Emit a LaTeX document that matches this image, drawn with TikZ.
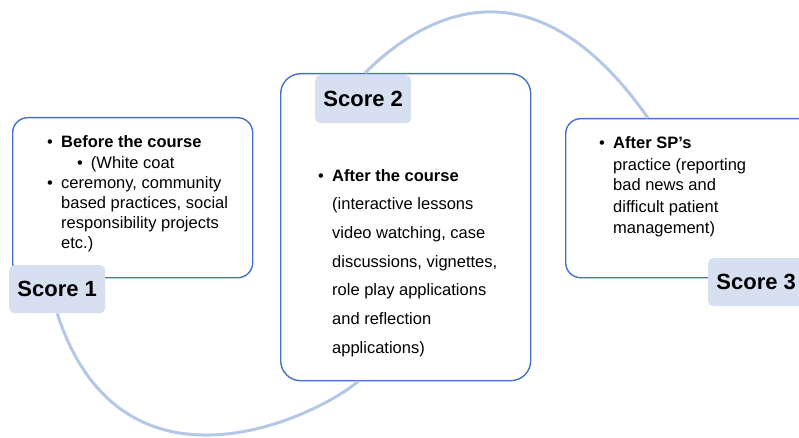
\documentclass[tikz,border=0pt]{standalone}
\usepackage{fontspec}
\setmainfont{Liberation Sans}
\usetikzlibrary{positioning}

\definecolor{boxblue}{RGB}{68,114,196}
\definecolor{linkblue}{RGB}{180,199,231}
\definecolor{tabblue}{RGB}{214,224,241}

\tikzset{
  box/.style={draw=boxblue,line width=1.4pt,fill=white,anchor=north west,inner sep=0pt},
  tab/.style={fill=tabblue,rounded corners=5pt,anchor=north west,minimum height=48pt,
    minimum width=96pt,inner sep=0pt,font=\fontsize{22}{26}\selectfont\bfseries},
  link/.style={draw=linkblue,line width=3pt},
  txt/.style={anchor=base west,inner sep=0pt,align=left}
}

\begin{document}
\begin{tikzpicture}[x=1pt,y=1pt]
  \useasboundingbox (0,0) rectangle (799,437);
  \clip (0,0) rectangle (799,437);

  % the three boxes
  \node[box,rounded corners=15pt,minimum width=240pt,minimum height=160pt] (b1) at (12,320) {};
  \node[box,rounded corners=20pt,minimum width=250pt,minimum height=307pt] (b2) at (280,364) {};
  \node[box,rounded corners=15pt,minimum width=250pt,minimum height=159pt] (b3) at (565,319) {};

  % score tabs
  \node[tab] (s1) at (9,172) {Score 1};
  \node[tab] (s2) at (315,362) {Score 2};
  \node[tab] (s3) at (708,179) {Score 3};

  % arcs between the boxes
  \path[link] ([xshift=85pt]b2.north west) .. controls +(45:87) and +(125:197) .. ([xshift=83pt]b3.north west);
  \path[link] (s1.south) .. controls +(-72:209) and +(221:52) .. ([xshift=78pt]b2.south west);

  % box texts
  \node[txt] (t1) at (47,289) {\fontsize{16.5}{20}\selectfont
    \begin{tabular}[t]{@{}p{14pt}@{}l@{}}
    \textbullet & \textbf{Before the course}\\
     & \hspace{16pt}\textbullet\hspace{8pt}(White coat\\
    \textbullet & ceremony, community\\
     & based practices, social\\
     & responsibility projects\\
     & etc.)
    \end{tabular}};
  \node[txt] (t2) at (318,256) {\fontsize{16.5}{28.7}\selectfont
    \begin{tabular}[t]{@{}p{14pt}@{}l@{}}
    \textbullet & \textbf{After the course}\\
     & (interactive lessons\\
     & video watching, case\\
     & discussions, vignettes,\\
     & role play applications\\
     & and reflection\\
     & applications)
    \end{tabular}};
  \node[txt] (t3) at (599,288) {\fontsize{16.5}{21}\selectfont
    \begin{tabular}[t]{@{}p{14pt}@{}l@{}}
    \textbullet & \textbf{After SP’s}\\
     & practice (reporting\\
     & bad news and\\
     & difficult patient\\
     & management)
    \end{tabular}};
\end{tikzpicture}
\end{document}
